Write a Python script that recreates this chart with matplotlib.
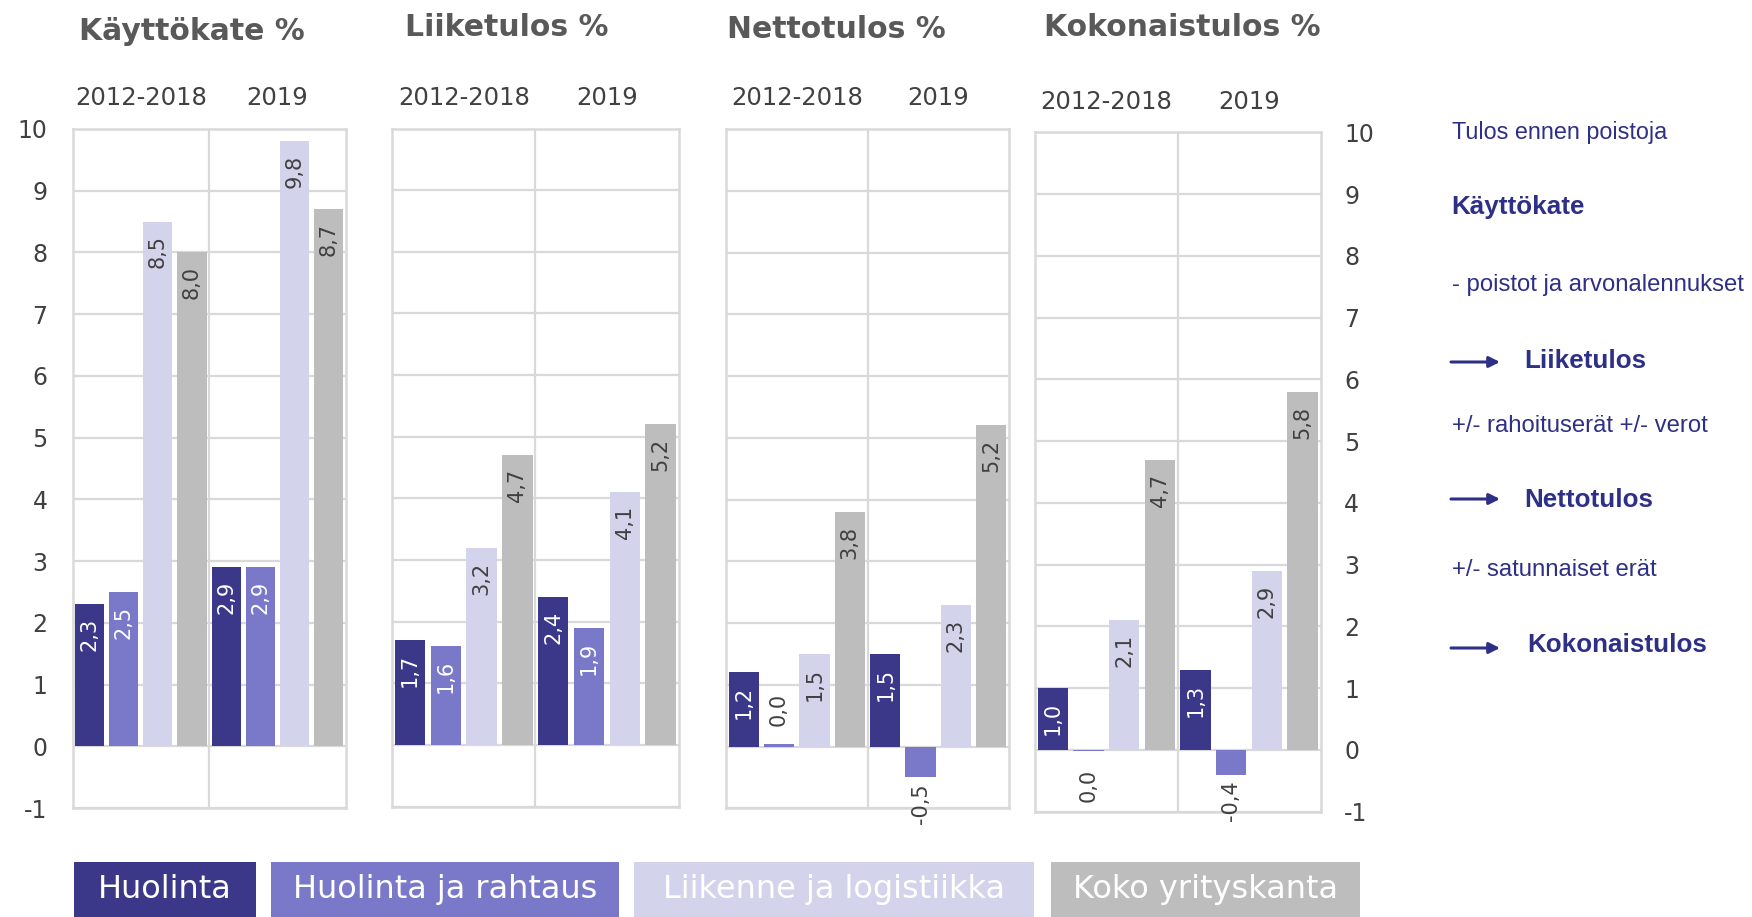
import numpy as np
import matplotlib.pyplot as plt

plt.rcParams["axes.unicode_minus"] = False

W, H = 1752, 917

titles = ["Käyttökate %", "Liiketulos %", "Nettotulos %", "Kokonaistulos %"]
periods = ["2012-2018", "2019"]
series = ["Huolinta", "Huolinta ja rahtaus", "Liikenne ja logistiikka", "Koko yrityskanta"]
colors = ["#3b3789", "#7a78c8", "#d3d3ec", "#bdbdbd"]

# rows = series, cols = periods
kayttokate = [[2.3, 2.9], [2.5, 2.9], [8.5, 9.8], [8.0, 8.7]]
liiketulos = [[1.7, 2.4], [1.6, 1.9], [3.2, 4.1], [4.7, 5.2]]
nettotulos = [[1.2, 1.5], [0.04, -0.5], [1.5, 2.3], [3.8, 5.2]]
kokonaistulos = [[1.0, 1.3], [-0.01, -0.4], [2.1, 2.9], [4.7, 5.8]]
panels = [kayttokate, liiketulos, nettotulos, kokonaistulos]

yticks = list(range(-1, 11))

# panel boxes in pixels (left, top, right, bottom)
boxes = [(72.6, 129, 345.5, 808), (392.2, 128.5, 678.5, 806.5),
         (726, 129, 1009, 808.3), (1035, 132.3, 1320.5, 811.7)]
title_pos = [(192, 31), (507, 28), (836, 30), (1182, 28)]

grey = "#d9d9d9"
txt = "#404040"

fig = plt.figure(figsize=(W / 100, H / 100), dpi=100)


def px_axes(l, t, r, b):
    return fig.add_axes([l / W, 1 - b / H, (r - l) / W, (b - t) / H])


def fmt(v):
    return f"{round(v, 1) + 0.0:.1f}".replace(".", ",")


slot = 0.25
bw = 0.213
for p, data in enumerate(panels):
    ax = px_axes(*boxes[p])
    ax.set_xlim(-0.5, 1.5)
    ax.set_ylim(-1, 10)
    for y in yticks:
        ax.axhline(y, color=grey, lw=1.6, zorder=0)
    ax.axvline(0.5, color=grey, lw=1.6, zorder=0)
    for s in ax.spines.values():
        s.set_color(grey)
        s.set_linewidth(1.8)
    ax.set_xticks([])
    ax.set_yticks(yticks)
    ax.tick_params(axis="y", length=0, labelsize=17, labelcolor=txt, pad=18)
    if p == 0:
        ax.tick_params(axis="y", left=False, labelleft=True)
    elif p == 3:
        ax.yaxis.tick_right()
        ax.tick_params(axis="y", right=False, labelright=True, pad=17)
    else:
        ax.tick_params(axis="y", labelleft=False)

    for i, vals in enumerate(data):
        xs = np.arange(len(periods)) - 0.5 + slot / 2 + i * slot
        ax.bar(xs, vals, width=bw, color=colors[i], zorder=2)
        for x, v in zip(xs, vals):
            if v >= 0.9:
                c = "white" if i < 2 else txt
                ax.annotate(fmt(v), (x, v), xytext=(0, -10), textcoords="offset points",
                            rotation=90, ha="center", va="top", fontsize=15, color=c, zorder=3)
            else:
                off = 13 if abs(v) < 0.05 else 4
                if v >= 0:
                    ax.annotate(fmt(v), (x, v), xytext=(0, off), textcoords="offset points",
                                rotation=90, ha="center", va="bottom", fontsize=15, color=txt,
                                zorder=3)
                else:
                    ax.annotate(fmt(v), (x, v), xytext=(0, -off), textcoords="offset points",
                                rotation=90, ha="center", va="top", fontsize=15, color=txt,
                                zorder=3, annotation_clip=False)

    for g, lab in enumerate(periods):
        ax.annotate(lab, (g, 10), xytext=(0, 22), textcoords="offset points",
                    ha="center", va="center", fontsize=17.5, color=txt, annotation_clip=False)

    fig.text(title_pos[p][0] / W, 1 - title_pos[p][1] / H, titles[p], ha="center",
             va="center", fontsize=21.5, fontweight="bold", color="#595959")

# legend boxes along the bottom
leg_boxes = [(74, 256), (270.5, 619), (634, 1034), (1051, 1360)]
for (l, r), name, c in zip(leg_boxes, series, colors):
    lax = px_axes(l, 861.5, r, 917)
    lax.set_facecolor(c)
    lax.set_xticks([])
    lax.set_yticks([])
    for s in lax.spines.values():
        s.set_visible(False)
    lax.text(0.5, 0.5, name, ha="center", va="center", fontsize=23, color="white",
             transform=lax.transAxes)

# explanation on the right
navy = "#2e2f86"
fam = ["Liberation Sans", "DejaVu Sans"]
notes = [
    (1451.5, 132, "Tulos ennen poistoja", 16.8, "normal"),
    (1451.5, 207, "Käyttökate", 18.7, "bold"),
    (1451.5, 285, "- poistot ja arvonalennukset", 17.2, "normal"),
    (1524, 361, "Liiketulos", 18.7, "bold"),
    (1451.5, 426, "+/- rahoituserät +/- verot", 17.2, "normal"),
    (1524, 500, "Nettotulos", 18.7, "bold"),
    (1451.5, 570, "+/- satunnaiset erät", 17.2, "normal"),
    (1527.5, 645, "Kokonaistulos", 18.7, "bold"),
]
for x, y, s, fs, fw in notes:
    fig.text(x / W, 1 - y / H, s, ha="left", va="center", fontsize=fs, fontweight=fw,
             color=navy, family=fam)

for y in [362, 499, 648]:
    fig.add_artist(plt.Annotation("", xy=(1500 / W, 1 - y / H), xytext=(1451 / W, 1 - y / H),
                                  xycoords="figure fraction", textcoords="figure fraction",
                                  arrowprops=dict(arrowstyle="-|>", color=navy, lw=2.2,
                                                  mutation_scale=16, shrinkA=0, shrinkB=0)))

fig.savefig("out.png", dpi=100)
